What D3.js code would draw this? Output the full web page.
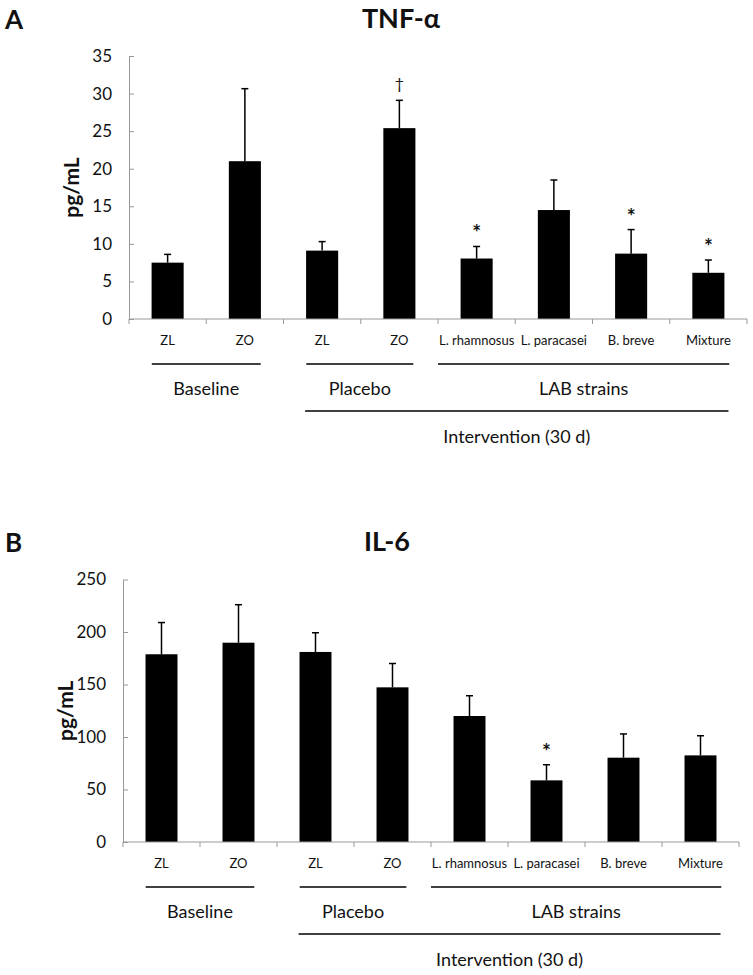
<!DOCTYPE html>
<html><head><meta charset="utf-8">
<script src="https://cdn.jsdelivr.net/npm/d3@7"></script>
<style>
body{margin:0;background:#fff;}
text{font-family:Lato,"Open Sans",sans-serif;fill:#111;}
</style></head>
<body><svg id="c" width="753" height="975"></svg>
<script>
const categories = ["ZL","ZO","ZL","ZO","L. rhamnosus","L. paracasei","B. breve","Mixture"];
const tnfMean = [7.5, 21.0, 9.1, 25.4, 8.05, 14.5, 8.7, 6.15];
const tnfErr  = [1.1, 9.65, 1.2, 3.7, 1.6, 4.0, 3.2, 1.7];
const tnfSig  = ["", "", "", "†", "*", "", "*", "*"];
const tnfTicks = [0,5,10,15,20,25,30,35];
const il6Mean = [178.8, 189.8, 181, 147.3, 120, 58.7, 80.3, 82.5];
const il6Err  = [30.2, 36.2, 18.3, 22.7, 19.3, 14.9, 22.6, 18.7];
const il6Sig  = ["", "", "", "", "", "*", "", ""];
const il6Ticks = [0,50,100,150,200,250];
const groupNames = ["Baseline","Placebo","LAB strains"];
const groupSpans = [[0,1],[2,3],[4,7]];
const outerName = "Intervention (30 d)";
const outerSpan = [2,7];

const svg = d3.select("#c");

function panel(o){
  const g = svg.append("g");
  const x = d3.scaleBand().domain(d3.range(categories.length)).range([o.left,o.right]).padding(0);
  const y = d3.scaleLinear().domain([0,o.max]).range([o.bottom,o.top]);
  const bw = x.bandwidth();
  const barW = bw*0.415;
  g.append("text").attr("x",5).attr("y",o.letterY).attr("font-size",26).attr("font-weight",700).text(o.letter);
  g.append("text").attr("x",o.titleX).attr("y",o.titleY).attr("text-anchor","middle").attr("font-size",27).attr("font-weight",700).text(o.title);
  const ya = g.append("g").attr("transform",`translate(${o.left},0)`)
    .call(d3.axisLeft(y).tickValues(o.ticks).tickSizeInner(-5).tickSizeOuter(0).tickPadding(17));
  ya.select(".domain").attr("stroke","#999");
  ya.selectAll(".tick line").attr("stroke","#999");
  ya.selectAll(".tick text").attr("font-size",17).attr("font-family","Lato, 'Open Sans', sans-serif").attr("fill","#111");
  g.append("text").attr("transform",`translate(${o.ylabX},${(o.top+o.bottom)/2}) rotate(-90)`)
    .attr("text-anchor","middle").attr("font-size",21).attr("font-weight",700).text("pg/mL");
  g.selectAll("rect.bar").data(o.mean).enter().append("rect")
    .attr("x",(d,i)=>x(i)+bw/2-barW/2).attr("width",barW)
    .attr("y",d=>y(d)).attr("height",d=>y(0)-y(d)).attr("fill","#000");
  const eb = g.selectAll("g.eb").data(o.mean).enter().append("g");
  eb.append("line").attr("x1",(d,i)=>x(i)+bw/2).attr("x2",(d,i)=>x(i)+bw/2)
    .attr("y1",d=>y(d)).attr("y2",(d,i)=>y(d+o.err[i])).attr("stroke","#000").attr("stroke-width",1.5);
  eb.append("line").attr("x1",(d,i)=>x(i)+bw/2-3.5).attr("x2",(d,i)=>x(i)+bw/2+3.5)
    .attr("y1",(d,i)=>y(d+o.err[i])).attr("y2",(d,i)=>y(d+o.err[i])).attr("stroke","#000").attr("stroke-width",1.5);
  g.selectAll("text.sig").data(o.sig).enter().append("text")
    .attr("x",(d,i)=>x(i)+bw/2).attr("y",(d,i)=>y(o.mean[i]+o.err[i])-(d==="*"?6:11))
    .attr("text-anchor","middle").attr("font-size",(d)=>d==="*"?21:16)
    .attr("font-weight",(d)=>d==="*"?700:400)
    .attr("font-family",(d)=>d==="*"?"'Liberation Sans', Arial, sans-serif":"Lato, sans-serif").text(d=>d);
  g.append("line").attr("x1",o.left).attr("x2",o.right).attr("y1",y(0)).attr("y2",y(0)).attr("stroke","#999");
  const bounds = d3.range(categories.length).map(i=>x(i)).concat([o.right]);
  g.selectAll("line.xt").data(bounds).enter().append("line")
    .attr("x1",d=>d).attr("x2",d=>d).attr("y1",y(0)).attr("y2",y(0)+5).attr("stroke","#999");
  g.selectAll("text.cat").data(categories).enter().append("text")
    .attr("x",(d,i)=>x(i)+bw/2).attr("y",y(0)+26).attr("text-anchor","middle").attr("font-size",13).text(d=>d);
  const ext = [[0.205,0.205],[0.205,0.18],[0.5,0.27]];
  groupSpans.forEach((s,k)=>{
    const x1 = x(s[0])+bw/2-ext[k][0]*bw, x2 = x(s[1])+bw/2+ext[k][1]*bw;
    g.append("line").attr("x1",x1).attr("x2",x2).attr("y1",y(0)+45).attr("y2",y(0)+45).attr("stroke","#000").attr("stroke-width",1.3);
    g.append("text").attr("x",(x1+x2)/2).attr("y",y(0)+76).attr("text-anchor","middle").attr("font-size",18).text(groupNames[k]);
  });
  const ox1 = x(outerSpan[0])+bw/2-0.22*bw, ox2 = x(outerSpan[1])+bw/2+0.26*bw;
  g.append("line").attr("x1",ox1).attr("x2",ox2).attr("y1",y(0)+92).attr("y2",y(0)+92).attr("stroke","#000").attr("stroke-width",1.3);
  g.append("text").attr("x",(ox1+ox2)/2).attr("y",y(0)+124).attr("text-anchor","middle").attr("font-size",18).text(outerName);
}

panel({letter:"A",letterY:29,title:"TNF-α",titleX:401,titleY:28,left:129,right:747,top:56,bottom:319,max:35,ticks:tnfTicks,
  mean:tnfMean,err:tnfErr,sig:tnfSig,ylabX:79});
panel({letter:"B",letterY:552,title:"IL-6",titleX:387,titleY:551,left:123,right:739,top:579.5,bottom:842,max:250,ticks:il6Ticks,
  mean:il6Mean,err:il6Err,sig:il6Sig,ylabX:73});
</script></body></html>
